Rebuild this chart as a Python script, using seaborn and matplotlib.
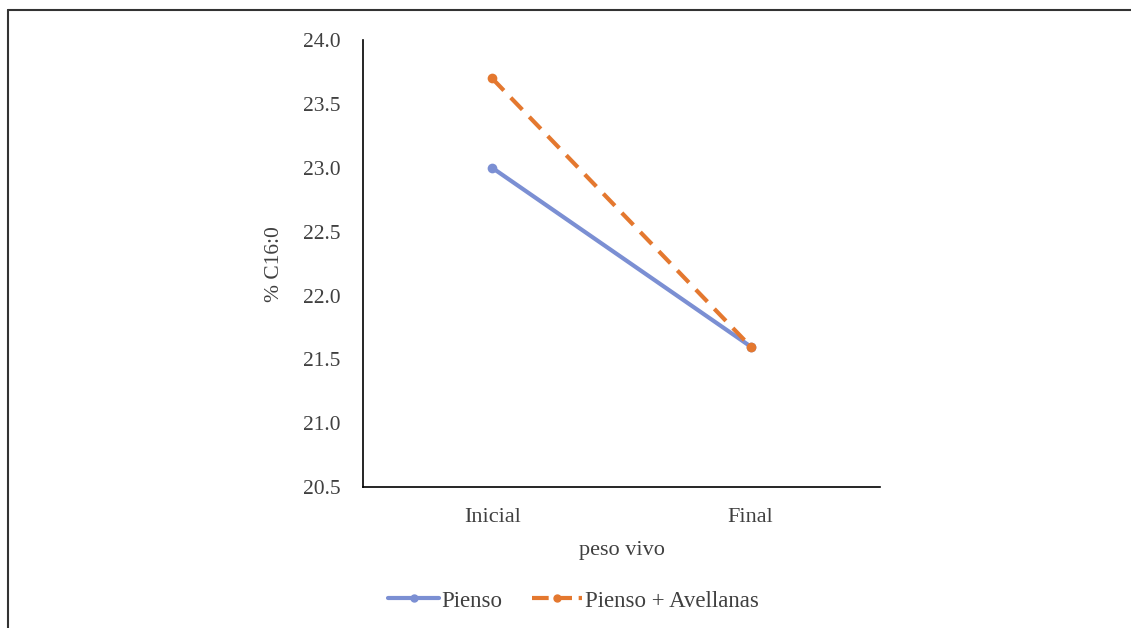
import matplotlib
matplotlib.use("Agg")
import matplotlib.pyplot as plt
import seaborn as sns
import pandas as pd
from matplotlib.lines import Line2D

categorias = ["Inicial", "Final"]
pienso = [23.0, 21.6]
pienso_avellanas = [23.7, 21.6]
series = ["Pienso", "Pienso + Avellanas"]
yticks = [20.5, 21.0, 21.5, 22.0, 22.5, 23.0, 23.5, 24.0]

df = pd.DataFrame({
    "peso vivo": categorias * 2,
    "valor": pienso + pienso_avellanas,
    "serie": [series[0]] * 2 + [series[1]] * 2,
})

sns.set_theme(style="white")
plt.rcParams["font.family"] = ["Liberation Serif", "DejaVu Serif"]

colors = {"Pienso": "#7B8FD3", "Pienso + Avellanas": "#E4782F"}

fig = plt.figure(figsize=(11.31, 6.28), dpi=100)
ax = fig.add_axes([0.321, 0.2245, 0.457, 0.7115])

lw = 3.0
sns.lineplot(data=df, x="peso vivo", y="valor", hue="serie", style="serie",
             palette=colors, dashes={"Pienso": "", "Pienso + Avellanas": (4, 2.4)},
             markers={"Pienso": "o", "Pienso + Avellanas": "o"},
             markersize=7, markeredgewidth=0, linewidth=lw, sort=False,
             legend=False, ax=ax)

ax.set_xlim(-0.5, 1.5)
ax.set_ylim(20.5, 24.0)
ax.set_yticks(yticks)
ax.set_yticklabels([f"{v:.1f}" for v in yticks])
ax.tick_params(axis="both", length=0, colors="#404040")
ax.tick_params(axis="y", pad=16, labelsize=15.5)
ax.tick_params(axis="x", pad=15, labelsize=16)
for s in ["top", "right"]:
    ax.spines[s].set_visible(False)
for s in ["left", "bottom"]:
    ax.spines[s].set_color("black")
    ax.spines[s].set_linewidth(1.2)
ax.set_xlabel("peso vivo", fontsize=16, color="#404040", labelpad=10)
ax.set_ylabel("% C16:0", fontsize=15.5, color="#404040", labelpad=14)

handles = [
    Line2D([0], [0], color=colors["Pienso"], lw=lw, marker="o", markersize=5),
    Line2D([0], [0], color=colors["Pienso + Avellanas"], lw=lw, ls=(0, (4, 1.6)), marker="o", markersize=5),
]
fig.legend(handles, series, loc="center", bbox_to_anchor=(0.507, 0.043), ncol=2,
           frameon=False, fontsize=16.5, handlelength=2.2, handletextpad=0.1,
           columnspacing=1.3, labelcolor="#404040")

# figure frame (top and left edges visible)
fig.add_artist(Line2D([0.007, 1.0], [0.984, 0.984], transform=fig.transFigure, color="#333333", lw=1.5))
fig.add_artist(Line2D([0.007, 0.007], [0.0, 0.984], transform=fig.transFigure, color="#333333", lw=1.5))

fig.savefig("out.png", dpi=100)
